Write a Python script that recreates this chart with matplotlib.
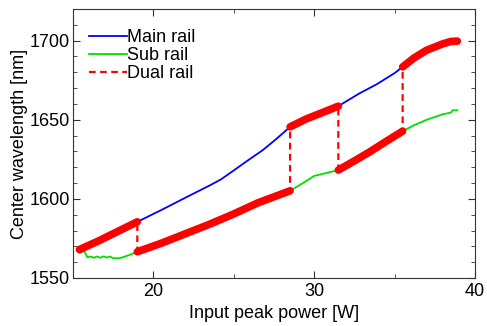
import numpy as np
import matplotlib
matplotlib.use("Agg")
from matplotlib import pyplot as plt

plt.rcParams['font.family'] = ['Liberation Sans', 'DejaVu Sans']

# main rail (blue)
main_x = [15.4, 16.5, 17.5, 19.0, 20.5, 22.0, 23.5, 24.2, 25.0, 25.9, 26.8, 27.6, 28.5,
          29.5, 30.5, 31.5, 32.8, 33.9, 35.0, 35.5, 36.2, 37.0, 37.5, 38.0, 38.5, 38.9]
main_y = [1568, 1573, 1578, 1585.5, 1593, 1600.8, 1608.5, 1612.3, 1618, 1624.5, 1630.8, 1637.5, 1645.5,
          1650.5, 1654.5, 1658.6, 1666.6, 1672.5, 1679.5, 1683.4, 1689, 1694, 1696, 1698, 1699.5, 1699.7]

# sub rail (green)
sub_x = [15.4, 15.7, 15.9, 16.1, 16.3, 16.5, 16.7, 16.9, 17.1, 17.3, 17.5, 17.9, 18.5, 19.0,
         20.5, 22.0, 23.5, 25.0, 26.5, 28.5, 29.3, 30.0, 30.8, 31.5,
         32.5, 33.5, 34.5, 35.5, 36.2, 37.0, 38.0, 38.5, 38.6, 38.9]
sub_y = [1566, 1567, 1563, 1563.6, 1562.8, 1563.6, 1562.8, 1563.7, 1562.9, 1563.6, 1562.5, 1562.5, 1564.5, 1566.6,
         1572, 1578, 1584, 1590.5, 1597.5, 1605.1, 1610, 1614.5, 1616.5, 1618.2,
         1624, 1630, 1636.5, 1642.8, 1646.5, 1650, 1653.5, 1654.5, 1656, 1656]

# dual rail path (switches between main and sub at 19, 28.5, 31.5, 35.5 W)
dual_x = [15.4, 16.5, 17.5, 19.0,
          19.0, 20.5, 22.0, 23.5, 25.0, 26.5, 28.5,
          28.5, 29.5, 30.5, 31.5,
          31.5, 32.5, 33.5, 34.5, 35.5,
          35.5, 36.2, 37.0, 37.5, 38.0, 38.5, 38.9]
dual_y = [1568, 1573, 1578, 1585.5,
          1566.6, 1572, 1578, 1584, 1590.5, 1597.5, 1605.1,
          1645.5, 1650.5, 1654.5, 1658.6,
          1618.2, 1624, 1630, 1636.5, 1642.8,
          1683.4, 1689, 1694, 1696, 1698, 1699.5, 1699.7]

fig, ax = plt.subplots(figsize=(4.87, 3.26), dpi=100)
fig.subplots_adjust(left=73/487, right=475/487, bottom=1-278/326, top=1-9/326)

ax.plot(main_x, main_y, color='#0000ff', lw=1.3, label='Main rail')
ax.plot(sub_x, sub_y, color='#00e000', lw=1.3, label='Sub rail')
ax.plot(dual_x, dual_y, color='#ff0000', lw=1.6, ls=(0, (3, 2)), label='Dual rail')

# thick solid pieces of the dual rail, split at the jumps
dx = np.array(dual_x)
dy = np.array(dual_y)
cuts = np.where(np.diff(dx) == 0)[0] + 1
for sx, sy in zip(np.split(dx, cuts), np.split(dy, cuts)):
    ax.plot(sx, sy, color='#ff0000', lw=5.5, solid_capstyle='round')

ax.set_xlim(15, 40)
ax.set_ylim(1550, 1720)
ax.set_xticks([20, 30, 40])
ax.set_xticks([25, 35], minor=True)
ax.set_yticks([1550, 1600, 1650, 1700])
ax.set_yticks(np.arange(1550, 1720, 10), minor=True)
ax.tick_params(which='both', direction='in', top=True, right=True, labelsize=13, colors='#333333', labelcolor='black')
ax.tick_params(which='major', length=5)
ax.tick_params(which='minor', length=3)
ax.tick_params(axis='y', pad=2)
for s in ax.spines.values():
    s.set_color('#333333')

ax.set_xlabel('Input peak power [W]', fontsize=13, labelpad=4)
ax.set_ylabel('Center wavelength [nm]', fontsize=13, labelpad=1)

ax.legend(loc='upper left', frameon=False, fontsize=13, handlelength=2.1, handletextpad=0.0,
          labelspacing=0.05, borderaxespad=0, bbox_to_anchor=(9/402, 1-13/269))

plt.savefig('out.png', dpi=100)
